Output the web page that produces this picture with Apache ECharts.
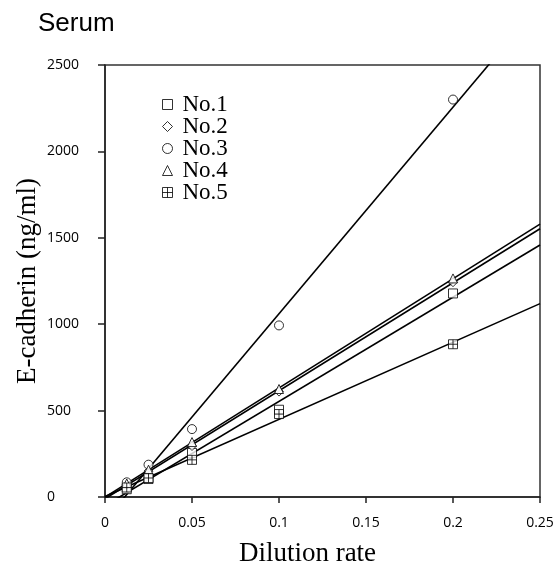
<!DOCTYPE html>
<html>
<head>
<meta charset="utf-8">
<script src="https://cdn.jsdelivr.net/npm/echarts@6/dist/echarts.min.js"></script>
<style>html,body{margin:0;padding:0;background:#fff}#c{width:557px;height:567px}</style>
</head>
<body>
<div id="c"></div>
<script>
// ---- data ----
const dilution = [0.0125, 0.025, 0.05, 0.1, 0.2];
const seriesNames = ['No.1', 'No.2', 'No.3', 'No.4', 'No.5'];
const no1 = [45, 104, 255, 505, 1178];
const no2 = [72, 150, 295, 610, 1243];
const no3 = [85, 187, 393, 993, 2300];
const no4 = [78, 158, 318, 625, 1265];
const no5 = [55, 110, 215, 480, 884];
const xTicks = [0, 0.05, 0.1, 0.15, 0.2, 0.25];
const yTicks = [0, 500, 1000, 1500, 2000, 2500];

const values = [no1, no2, no3, no4, no5];
const crossSquare = 'path://M0 0H10V10H0Z M5 0V10 M0 5H10';
const symbols = ['rect', 'diamond', 'circle', 'triangle', crossSquare];

function fit(xs, ys) {
  const n = xs.length;
  const mx = xs.reduce((a, b) => a + b, 0) / n;
  const my = ys.reduce((a, b) => a + b, 0) / n;
  let sxx = 0, sxy = 0;
  for (let i = 0; i < n; i++) { sxx += (xs[i] - mx) ** 2; sxy += (xs[i] - mx) * (ys[i] - my); }
  const m = sxy / sxx;
  return { m, b: my - m * mx };
}

const series = [];
values.forEach((vals, i) => {
  const f = fit(dilution, vals);
  const x0 = xTicks[0], x1 = xTicks[xTicks.length - 1];
  series.push({
    type: 'line', name: seriesNames[i] + ' fit', silent: true, clip: true,
    symbol: 'none', z: 2,
    lineStyle: { color: '#000', width: 1.6 },
    data: [[x0, f.m * x0 + f.b], [x1, f.m * x1 + f.b]]
  });
});
values.forEach((vals, i) => {
  series.push({
    type: 'scatter', name: seriesNames[i], z: 3,
    symbol: symbols[i], symbolSize: 9,
    itemStyle: { color: '#fff', borderColor: '#000', borderWidth: 1 },
    data: dilution.map((x, k) => [x, vals[k]])
  });
});

const chart = echarts.init(document.getElementById('c'), null, { renderer: 'canvas' });
chart.setOption({
  animation: false,
  backgroundColor: '#fff',
  title: {
    text: 'Serum', left: 33, top: 6,
    textStyle: { fontFamily: 'Liberation Sans', fontSize: 26, fontWeight: 'normal', color: '#000' }
  },
  legend: {
    orient: 'vertical', left: 162, top: 93, itemGap: -1, padding: 0,
    itemWidth: 10, itemHeight: 10,
    data: seriesNames.map((n, i) => ({ name: n, icon: symbols[i] })),
    itemStyle: { color: '#fff', borderColor: '#000', borderWidth: 1 },
    textStyle: { fontFamily: 'Liberation Serif', fontSize: 23, lineHeight: 22, color: '#000', padding: [0, 0, 0, 5] }
  },
  grid: {
    left: 105, right: 17, top: 65, bottom: 70,
    containLabel: false, outerBoundsMode: 'none',
    show: true, borderColor: '#333', borderWidth: 1.5, backgroundColor: 'transparent'
  },
  xAxis: {
    type: 'value', min: 0, max: 0.25, interval: 0.05,
    name: 'Dilution rate', nameLocation: 'middle', nameGap: 43,
    nameTextStyle: { fontFamily: 'Liberation Serif', fontSize: 27, color: '#000', padding: [0, 30, 0, 0] },
    axisLine: { show: true, lineStyle: { color: '#222', width: 1.5 } },
    axisTick: { show: true, inside: false, length: 6, lineStyle: { color: '#222', width: 1.5 } },
    splitLine: { show: false },
    axisLabel: {
      margin: 19, color: '#000', fontFamily: 'Open Sans', fontSize: 14,
      formatter: v => String(+v.toFixed(2))
    }
  },
  yAxis: {
    type: 'value', min: 0, max: 2500, interval: 500,
    name: 'E-cadherin (ng/ml)', nameLocation: 'middle', nameGap: 64, nameMoveOverlap: false,
    nameTextStyle: { fontFamily: 'Liberation Serif', fontSize: 27, color: '#000' },
    axisLine: { show: true, lineStyle: { color: '#222', width: 1.5 } },
    axisTick: { show: true, inside: false, length: 7, lineStyle: { color: '#222', width: 1.5 } },
    splitLine: { show: false },
    axisLabel: {
      margin: 58, align: 'left', color: '#000', fontFamily: 'Open Sans', fontSize: 14,
      formatter: v => String(v)
    }
  },
  series: series
});
</script>
</body>
</html>
